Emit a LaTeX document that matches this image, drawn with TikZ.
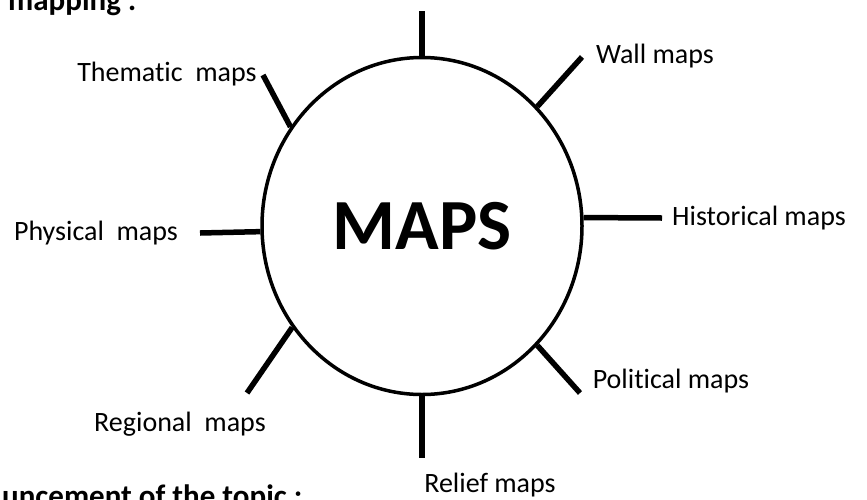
\documentclass[tikz,border=0pt]{standalone}
\usepackage{fontspec}
\setmainfont[Ligatures=NoCommon]{Carlito}
\usetikzlibrary{shapes.geometric}
\usetikzlibrary{positioning}
\tikzstyle{map_circle} = [
    ellipse, 
    draw=black, 
    line width=3.5pt, 
    inner sep=0pt, 
    minimum width=320pt, 
    minimum height=337pt, 
    font=\bfseries\fontsize{72}{80}\selectfont
]
\tikzstyle{map_label} = [
    inner sep=0pt, 
    font=\fontsize{28}{32}\selectfont
]
\tikzstyle{heading} = [
    inner sep=0pt, 
    anchor=base west, 
    font=\bfseries\fontsize{31}{36}\selectfont
]
\tikzstyle{spoke} = [
    line width=5.5pt
]

\begin{document}
\begin{tikzpicture}[x=1pt, y=-1pt]
\useasboundingbox (0,0) rectangle (867,499);
% headings cut by the page
\node [heading] (head_top) at (8,10) {mapping :};
\node [heading] (head_bottom) at (2,506) {uncement of the topic :};
% the circle
\node [map_circle] (maps) at (422,226) {MAPS};
% labels
\node [map_label] (thematic) at (167,74) {Thematic\ \ maps};
\node [map_label] (wall) at (655,56) {Wall maps};
\node [map_label] (historical) at (759,218) {Historical maps};
\node [map_label] (physical) at (96,233) {Physical\ \ maps};
\node [map_label] (political) at (671,381) {Political maps};
\node [map_label] (regional) at (180,424) {Regional\ \ maps};
\node [map_label] (relief) at (490,485) {Relief maps};
% free ends of the spokes
\coordinate (top_end) at (422,11);
\coordinate (wall_end) at (582,57);
\coordinate (historical_end) at (662,218);
\coordinate (political_end) at (580,393);
\coordinate (relief_end) at (422,458);
\coordinate (regional_end) at (247,393);
\coordinate (physical_end) at (200,233);
\coordinate (thematic_end) at (263,75);
% spokes
\draw [spoke] (maps.north) -- (top_end);
\draw [spoke] (maps.46) -- (wall_end);
\draw [spoke] (maps.3) -- (historical_end);
\draw [spoke] (maps.-46) -- (political_end);
\draw [spoke] (maps.south) -- (relief_end);
\draw [spoke] (maps.-142) -- (regional_end);
\draw [spoke] (maps.182) -- (physical_end);
\draw [spoke] (maps.143) -- (thematic_end);
\end{tikzpicture}
\end{document}
